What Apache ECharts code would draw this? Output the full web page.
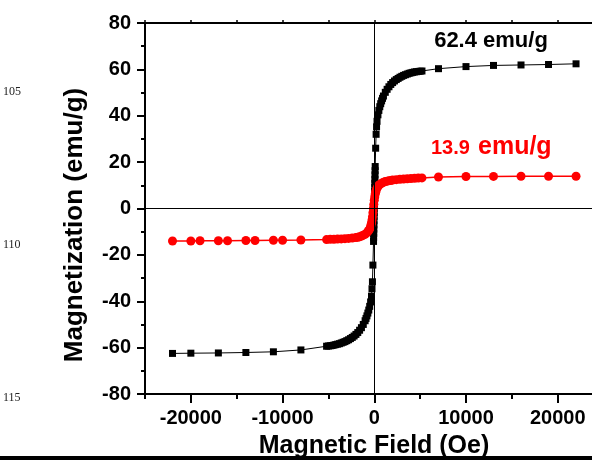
<!DOCTYPE html>
<html><head><meta charset="utf-8">
<script src="https://cdn.jsdelivr.net/npm/echarts@6/dist/echarts.min.js"></script>
<style>html,body{margin:0;padding:0;background:#fff}#c{width:592px;height:460px}</style>
</head><body><div id="c"></div>
<script>
// ---- data ----
const xMin = -25000, xMax = 23740;   // right end of the visible (cropped) frame
const xLabelValues = [-20000, -10000, 0, 10000, 20000];
const xMinorValues = [-25000, -15000, -5000, 5000, 15000];
const xTopValues = [-25000, -20000, -15000, -10000, -5000, 0, 5000, 10000, 15000, 20000];
const yMin = -80, yMax = 80, yStep = 20;
const lineNumbers = ['105', '110', '115'];

const blackField = [
  -22000, -20000, -17000, -14000, -11000, -8000,
  -5200, -5000, -4800, -4600, -4400, -4200, -4000, -3800, -3600, -3400,
  -3200, -3000, -2800, -2600, -2400, -2200, -2000, -1800, -1600, -1400,
  -1200, -1000, -900, -800, -700, -600, -500, -400, -300, -250, -200, -150,
  -80, -70, -60, -50, -40, -30, -20, -10, 0, 10, 20, 30, 40, 50, 60, 70, 80, 90, 100,
  150, 200, 250, 300, 400, 500, 600, 700, 800, 900, 1000, 1200, 1400, 1600,
  1800, 2000, 2200, 2400, 2600, 2800, 3000, 3200, 3400, 3600, 3800, 4000,
  4200, 4400, 4600, 4800, 5000, 5200,
  7000, 10000, 13000, 16000, 19000, 22000
];
const blackMag = [
  -62.5, -62.4, -62.3, -62.1, -61.8, -61.0,
  -59.4, -59.3, -59.2, -59.1, -58.9, -58.7, -58.5, -58.3, -58.0, -57.7,
  -57.4, -57.0, -56.6, -56.1, -55.6, -55.0, -54.3, -53.5, -52.5, -51.4,
  -50.0, -48.4, -47.4, -46.3, -45.1, -43.8, -42.2, -40.3, -37.8, -34.6, -31.6, -24.4,
  -14.2, -12.4, -10.7, -8.9, -7.1, -5.3, -3.4, -1.8, 0.1, 1.9, 3.7, 5.4, 7.3, 9.1, 10.9, 12.6, 14.5, 16.3, 18.1,
  26.0, 32.0, 35.2, 37.6, 40.4, 42.3, 43.9, 45.2, 46.4, 47.5, 48.5, 50.1, 51.4, 52.5,
  53.5, 54.3, 55.0, 55.6, 56.1, 56.6, 57.0, 57.4, 57.7, 58.0, 58.3, 58.5,
  58.7, 58.9, 59.0, 59.1, 59.2, 59.3,
  60.3, 61.2, 61.7, 61.9, 62.1, 62.4
];

const redField = [
  -22000, -20000, -19000, -17000, -16000, -14000, -13000, -11000, -10000, -8000,
  -5200, -4800, -4400, -4000, -3600, -3200, -2800, -2400, -2000, -1800, -1600,
  -1400, -1200, -1000, -800, -700, -600, -500, -400, -350, -300, -250, -200,
  -150, -100, -50,
  0, 50, 100, 150, 200, 300, 400, 500, 600, 800, 1000, 1200, 1400, 1600, 1800,
  2000, 2400, 2800, 3200, 3600, 4000, 4400, 4800, 5200,
  7000, 10000, 13000, 16000, 19000, 22000
];
const redMag = [
  -14.0, -14.0, -13.9, -13.9, -13.9, -13.8, -13.8, -13.7, -13.7, -13.6,
  -13.4, -13.3, -13.25, -13.2, -13.1, -13.0, -12.9, -12.75, -12.55, -12.4, -12.2,
  -11.9, -11.5, -11.1, -10.5, -10.0, -9.5, -8.8, -7.8, -7.0, -6.2, -5.0, -3.6,
  -1.8, 0.0, 1.8,
  3.6, 5.0, 6.2, 7.0, 7.8, 8.8, 9.5, 10.0, 10.4, 10.9, 11.3, 11.6, 11.8, 12.0, 12.1,
  12.25, 12.45, 12.6, 12.7, 12.8, 12.9, 13.0, 13.1, 13.2,
  13.6, 13.8, 13.85, 13.9, 13.9, 13.9
];

const blackLabel = '62.4 emu/g';
const redValueLabel = '13.9';
const redUnitLabel = 'emu/g';
const xTitle = 'Magnetic Field (Oe)';
const yTitle = 'Magnetization (emu/g)';

// ---- chart ----
const FONT = '"Liberation Sans", Arial, Helvetica, sans-serif';
const zip = (a, b) => a.map((v, i) => [v, b[i]]);
const chart = echarts.init(document.getElementById('c'), null, {renderer: 'canvas'});
const axisLineStyle = {color: '#000', width: 2};
const labelStyle = {fontFamily: FONT, fontSize: 20, fontWeight: 'bold', color: '#000'};

chart.setOption({
  animation: false,
  backgroundColor: '#fff',
  grid: {left: 145, top: 23, right: 0, bottom: 66, containLabel: false},
  xAxis: [
    {
      type: 'value', min: xMin, max: xMax, interval: 5000, position: 'bottom',
      axisLine: {onZero: false, lineStyle: axisLineStyle},
      axisTick: {customValues: xLabelValues, length: 9, lineStyle: {color: '#000', width: 2}},
      axisLabel: Object.assign({customValues: xLabelValues, margin: 14,
        formatter: v => (v % 10000 === 0 ? String(v) : '')}, labelStyle),
      splitLine: {show: false}
    },
    {
      type: 'value', min: xMin, max: xMax, interval: 5000, position: 'bottom',
      axisLine: {show: false, onZero: false},
      axisTick: {customValues: xMinorValues, length: 5, lineStyle: {color: '#000', width: 2}},
      axisLabel: {show: false},
      splitLine: {show: false}
    },
    {
      type: 'value', min: xMin, max: xMax, interval: 5000, position: 'top',
      axisLine: {onZero: false, lineStyle: axisLineStyle},
      axisTick: {customValues: xTopValues, length: 3, lineStyle: {color: '#000', width: 1.5}},
      axisLabel: {show: false},
      splitLine: {show: false}
    }
  ],
  yAxis: {
    type: 'value', min: yMin, max: yMax, interval: yStep,
    axisLine: {onZero: false, lineStyle: axisLineStyle},
    axisTick: {length: 8, lineStyle: {color: '#000', width: 2}},
    minorTick: {show: true, splitNumber: 2, length: 4, lineStyle: {color: '#000', width: 2}},
    axisLabel: Object.assign({margin: 14, formatter: v => String(v)}, labelStyle),
    splitLine: {show: false},
    minorSplitLine: {show: false}
  },
  series: [
    {
      type: 'line', name: 'black', data: zip(blackField, blackMag),
      symbol: 'rect', symbolSize: 7, showAllSymbol: true,
      itemStyle: {color: '#000'}, lineStyle: {color: '#000', width: 1},
      emphasis: {disabled: true}, z: 2,
      markLine: {
        silent: true, symbol: ['none', 'none'], label: {show: false},
        lineStyle: {color: '#000', width: 1, type: 'solid'},
        emphasis: {disabled: true},
        data: [{xAxis: 0}, {yAxis: 0}]
      }
    },
    {
      type: 'line', name: 'red', data: zip(redField, redMag),
      symbol: 'circle', symbolSize: 9, showAllSymbol: true,
      itemStyle: {color: '#ff0000'}, lineStyle: {color: '#ff0000', width: 1.5},
      emphasis: {disabled: true}, z: 3
    }
  ],
  graphic: [
    ...lineNumbers.map((t, i) => ({
      type: 'text', left: 3, top: [86, 239, 392][i],
      style: {text: t, fontFamily: '"Liberation Serif", "Times New Roman", serif', fontSize: 12, fill: '#222'}
    })),
    {type: 'text', x: 374, y: 446, style: {text: xTitle, fontFamily: FONT, fontSize: 25, fontWeight: 'bold',
      fill: '#000', align: 'center', verticalAlign: 'middle'}},
    {type: 'text', x: 75, y: 225, rotation: Math.PI / 2, style: {text: yTitle, fontFamily: FONT, fontSize: 26,
      fontWeight: 'bold', fill: '#000', align: 'center', verticalAlign: 'middle'}},
    {type: 'text', x: 491, y: 41, style: {text: blackLabel, fontFamily: FONT, fontSize: 22, fontWeight: 'bold',
      fill: '#000', align: 'center', verticalAlign: 'middle'}},
    {type: 'text', x: 431, y: 148.5, style: {text: redValueLabel, fontFamily: FONT, fontSize: 20, fontWeight: 'bold',
      fill: '#ff0000', align: 'left', verticalAlign: 'middle'}},
    {type: 'text', x: 478, y: 147.5, style: {text: redUnitLabel, fontFamily: FONT, fontSize: 25, fontWeight: 'bold',
      fill: '#ff0000', align: 'left', verticalAlign: 'middle'}},
    {type: 'rect', left: 0, top: 456, z: 100, shape: {width: 592, height: 4}, style: {fill: '#000'}}
  ]
});
</script>
</body></html>
